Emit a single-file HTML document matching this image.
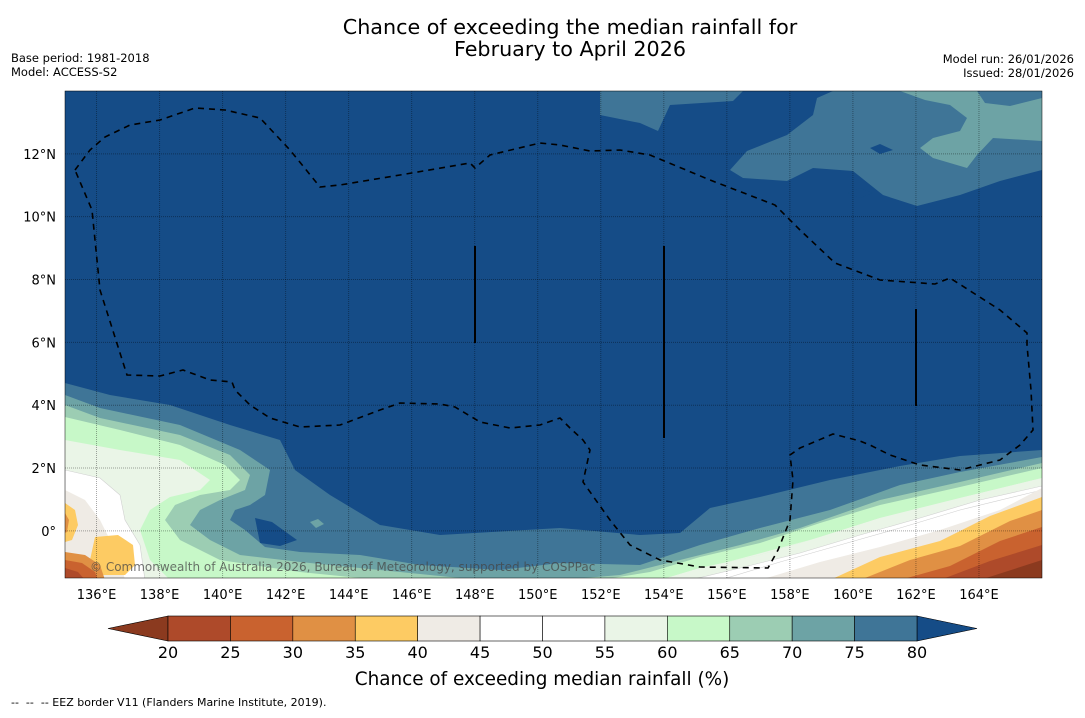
<!DOCTYPE html>
<html><head><meta charset="utf-8">
<style>
body{margin:0;background:#fff;}
svg text{font-family:"DejaVu Sans","Liberation Sans",sans-serif;}
</style></head>
<body>
<svg id="fig" width="1085" height="713" viewBox="0 0 1085 713" xmlns="http://www.w3.org/2000/svg">
<rect width="1085" height="713" fill="#fff"/>
<text x="570" y="34" font-size="20.7" text-anchor="middle">Chance of exceeding the median rainfall for</text>
<text x="570" y="56" font-size="20.7" text-anchor="middle">February to April 2026</text>
<text x="11" y="62" font-size="11.5">Base period: 1981-2018</text>
<text x="11" y="76" font-size="11.5">Model: ACCESS-S2</text>
<text x="1074" y="63" font-size="11.5" text-anchor="end">Model run: 26/01/2026</text>
<text x="1074" y="77" font-size="11.5" text-anchor="end">Issued: 28/01/2026</text>
<defs><clipPath id="mapclip"><rect x="65" y="91" width="977" height="487"/></clipPath></defs>
<g id="map" clip-path="url(#mapclip)"></g>
<g id="axes"></g>
<g id="cbar"></g>
<text x="542" y="685" font-size="18.4" text-anchor="middle">Chance of exceeding median rainfall (%)</text>
<text x="11" y="706" font-size="11" style="white-space:pre" xml:space="preserve">--  --  -- EEZ border V11 (Flanders Marine Institute, 2019).</text>
</svg>
<script>
const NS="http://www.w3.org/2000/svg";
// colorbar data
const levels=[20,25,30,35,40,45,50,55,60,65,70,75,80];
const bandColors=["#ae4a2a","#c9622f","#e09044","#fdcb63","#efebe5","#ffffff","#ffffff","#eaf5e7","#c7f8c8","#9ccdb3","#6da3a5","#3f7597"];
const underColor="#8b3a1f", overColor="#154c87";
// axis data
const lonTicks=[136,138,140,142,144,146,148,150,152,154,156,158,160,162,164];
const latTicks=[0,2,4,6,8,10,12];
const lonMin=135, lonMax=166, latMin=-1.5, latMax=14;
const X0=65,X1=1042,Y0=91,Y1=578;
function lx(lon){return X0+(lon-lonMin)/(lonMax-lonMin)*(X1-X0);}
function ly(lat){return Y1-(lat-latMin)/(latMax-latMin)*(Y1-Y0);}
function mk(tag,attrs,parent){const e=document.createElementNS(NS,tag);for(const k in attrs)e.setAttribute(k,attrs[k]);parent.appendChild(e);return e;}
const map=document.getElementById('map');
const bg=mk('rect',{x:X0,y:Y0,width:X1-X0,height:Y1-Y0,fill:overColor},map);


function pts(a){return a.map(p=>p.join(',')).join(' ');}
function poly(a,fill,name,stroke){const p=mk('polygon',{points:pts(a),fill:fill,stroke:stroke||'none','stroke-width':stroke?0.6:0},map);

return p;}
const BL=[65,578],BR=[1042,578];
// southern contour bands
poly([[65,383],[110,395],[170,405],[230,425],[280,440],[295,470],[330,495],[380,525],[440,535],[560,528],[640,535],[680,533],[710,508],[760,497],[830,480],[900,466],[960,456],[1042,450],BR,BL],bandColors[11],'band-75-80');
poly([[255,518],[272,522],[297,540],[280,546],[260,543]],overColor,'blob-above-80');
poly([[65,395],[100,408],[180,425],[240,450],[270,470],[265,495],[250,505],[235,510],[230,520],[245,530],[265,547],[300,552],[360,555],[420,565],[500,570],[560,563],[640,565],[700,545],[760,528],[830,510],[900,485],[960,472],[1042,457],BR,BL],bandColors[10],'band-70-75');
poly([[65,405],[100,418],[180,435],[230,455],[250,475],[245,490],[220,500],[200,510],[190,525],[210,540],[240,555],[300,562],[400,572],[480,580],[560,580],[620,575],[680,560],[740,545],[800,528],[880,500],[960,482],[1042,463],BR,BL],bandColors[9],'band-65-70');
poly([[310,522],[318,519],[324,524],[316,528]],bandColors[10],'blob-70-75');
poly([[65,417],[120,430],[180,445],[225,465],[240,480],[230,490],[200,495],[175,505],[165,520],[180,540],[220,560],[300,572],[380,580],BL],bandColors[8],'band-60-65-west');
poly([[600,580],[650,572],[700,557],[760,543],[820,523],[880,505],[960,487],[1042,468],BR],bandColors[8],'band-60-65-east');
poly([[65,440],[120,450],[180,460],[210,480],[200,490],[170,497],[150,510],[140,530],[150,560],[170,580],BL],bandColors[7],'band-55-60-west');
poly([[660,580],[700,568],[760,555],[820,537],[880,518],[960,498],[1042,478]],bandColors[7],'band-55-60-east-edge');
poly([[660,580],[700,568],[760,555],[820,537],[880,518],[960,498],[1042,478],BR],bandColors[7],'band-55-60-east');
poly([[65,470],[100,478],[120,495],[125,520],[140,545],[145,580],BL],"#ffffff",'band-45-55-west',"#d0d0d0");
poly([[690,580],[740,568],[800,553],[860,535],[920,518],[980,500],[1042,486],BR],"#ffffff",'band-45-55-east',"#d0d0d0");
poly([[720,580],[780,562],[840,545],[900,528],[960,510],[1042,490],BR],"#ffffff",'band-50-contour-east',"#d0d0d0");
poly([[65,490],[85,500],[100,520],[110,540],[120,560],[125,580],BL],bandColors[4],'band-40-45-west');
poly([[760,580],[820,562],[880,547],[940,530],[1000,510],[1042,488],BR],bandColors[4],'band-40-45-east');
poly([[830,580],[880,557],[940,541],[990,516],[1042,497],BR],bandColors[3],'band-35-40-east');
poly([[860,580],[910,560],[960,546],[1010,521],[1042,510],BR],bandColors[2],'band-30-35-east');
poly([[900,580],[950,566],[1000,541],[1042,527],BR],bandColors[1],'band-25-30-east');
poly([[940,580],[990,561],[1042,545],BR],bandColors[0],'band-20-25-east');
poly([[980,580],[1042,560],BR],underColor,'band-below-20-east');
// west oranges
poly([[65,503],[75,510],[78,525],[72,540],[65,542]],bandColors[3],'band-35-40-west-edge');
poly([[65,513],[69,520],[67,532],[65,533]],bandColors[2],'band-30-35-west-edge');
poly([[95,537],[118,535],[133,545],[135,565],[125,575],[100,575],[90,560]],bandColors[3],'band-35-40-west-blob');
poly([[65,552],[85,555],[100,565],[105,580],BL],bandColors[2],'band-30-35-west-sw');
poly([[65,560],[82,563],[95,572],[98,580],BL],bandColors[1],'band-25-30-west-sw');
poly([[65,568],[78,572],[85,580],BL],bandColors[0],'band-20-25-west-sw');
// north-east teal regions
poly([[600,91],[743,91],[733,101],[670,105],[658,131],[640,123],[600,115]],bandColors[11],'band-75-80-north');
poly([[833,91],[1042,91],[1042,170],[1000,181],[960,195],[917,206],[883,195],[853,171],[813,168],[787,181],[743,178],[730,170],[747,151],[787,135],[813,115],[817,98]],bandColors[11],'band-75-80-northeast');
poly([[900,91],[977,91],[985,103],[1010,106],[1042,98],[1042,141],[993,138],[977,155],[967,168],[933,158],[920,148],[933,138],[960,131],[967,118],[950,105],[925,100]],bandColors[10],'band-70-75-northeast');
poly([[870,148],[880,144],[893,150],[880,154]],overColor,'blob-northeast-1');
poly([[848,193],[860,188],[873,193],[860,198]],overColor,'blob-northeast-2');
// gridlines
const axes=document.getElementById('axes');
lonTicks.forEach(l=>{const g=mk('line',{x1:lx(l),x2:lx(l),y1:Y0,y2:Y1,stroke:'rgba(0,0,0,0.35)','stroke-width':1,'stroke-dasharray':'1,1'},map);


const t=mk('text',{x:lx(l),y:599,'font-size':13,'text-anchor':'middle'},axes);t.textContent=l+'°E';

});
latTicks.forEach(l=>{const g=mk('line',{x1:X0,x2:X1,y1:ly(l),y2:ly(l),stroke:'rgba(0,0,0,0.35)','stroke-width':1,'stroke-dasharray':'1,1'},map);


const t=mk('text',{x:56,y:ly(l)+5,'font-size':13,'text-anchor':'end'},axes);t.textContent=(l===0?'0°':l+'°N');

});
// EEZ dashed border
const eez=[[75,170],[90,150],[105,137],[130,125],[160,120],[195,108],[225,110],[260,118],[290,150],[320,187],[340,185],[400,175],[470,163],[475,168],[490,155],[540,143],[560,145],[590,151],[620,150],[650,155],[710,180],[775,205],[800,230],[835,263],[880,280],[935,284],[950,278],[1000,310],[1027,333],[1027,345],[1031,390],[1033,430],[1020,445],[1000,460],[960,470],[920,465],[890,455],[870,445],[860,441],[833,434],[800,448],[790,455],[793,480],[790,520],[778,550],[768,568],[700,567],[660,560],[630,545],[610,520],[583,482],[590,450],[583,440],[570,428],[560,418],[540,425],[510,428],[480,422],[455,407],[440,404],[400,403],[380,410],[340,425],[300,427],[270,418],[250,405],[235,390],[232,382],[210,380],[183,370],[160,376],[127,375],[100,290],[92,210],[75,170]];
const e=mk('polyline',{points:pts(eez),fill:'none',stroke:'#000','stroke-width':1.6,'stroke-dasharray':'6,5'},map);


[[475,246,343],[664,246,438],[916,309,406]].forEach(v=>{const l=mk('line',{x1:v[0],x2:v[0],y1:v[1],y2:v[2],stroke:'#000','stroke-width':2},map);

});
const cp=mk('text',{x:90,y:571,'font-size':12,fill:'rgba(70,70,70,0.75)'},map);cp.textContent='© Commonwealth of Australia 2026, Bureau of Meteorology, supported by COSPPac';


mk('rect',{x:X0,y:Y0,width:X1-X0,height:Y1-Y0,fill:'none',stroke:'#000','stroke-width':0.5},axes);
// colorbar
const cb=document.getElementById('cbar');
const cbX0=168,cbX1=917,cbY=616,cbH=25;
function cx(v){return cbX0+(v-levels[0])/(levels[levels.length-1]-levels[0])*(cbX1-cbX0);}
const tl=mk('polygon',{points:`${cbX0},${cbY} 108,${cbY+cbH/2} ${cbX0},${cbY+cbH}`,fill:underColor,stroke:'#000','stroke-width':0.6},cb);


const tr=mk('polygon',{points:`${cbX1},${cbY} 977,${cbY+cbH/2} ${cbX1},${cbY+cbH}`,fill:overColor,stroke:'#000','stroke-width':0.6},cb);


for(let i=0;i<bandColors.length;i++){const r=mk('rect',{x:cx(levels[i]),y:cbY,width:cx(levels[i+1])-cx(levels[i]),height:cbH,fill:bandColors[i],stroke:'#000','stroke-width':0.6},cb);

}
levels.forEach(v=>{const t=mk('text',{x:cx(v),y:658,'font-size':16,'text-anchor':'middle'},cb);t.textContent=v;

});
</script>
</body></html>
